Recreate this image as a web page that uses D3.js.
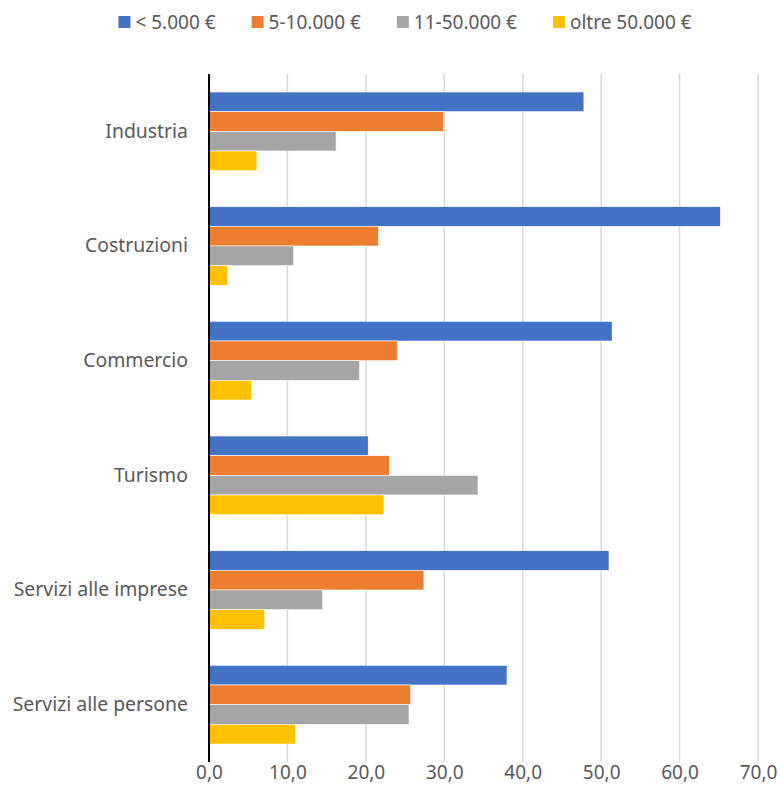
<!DOCTYPE html>
<html>
<head>
<meta charset="utf-8">
<script src="https://cdn.jsdelivr.net/npm/d3@7"></script>
<style>
  body { margin: 0; background: #fff; }
  svg text { font-family: "Noto Sans", "Open Sans", sans-serif; fill: #595959; }
</style>
</head>
<body>
<svg id="chart" width="781" height="803"></svg>
<script>
// settori
const categories = ["Industria", "Costruzioni", "Commercio", "Turismo", "Servizi alle imprese", "Servizi alle persone"];
// classi di importo
const series = ["< 5.000 €", "5-10.000 €", "11-50.000 €", "oltre 50.000 €"];
const colors = ["#4472C4", "#ED7D31", "#A5A5A5", "#FFC000"];

// valori (%)
const lt5000 = [47.8, 65.2, 51.4, 20.3, 51.0, 38.0];
const from5to10 = [29.9, 21.6, 24.0, 23.0, 27.4, 25.7];
const from11to50 = [16.2, 10.8, 19.2, 34.3, 14.5, 25.5];
const over50 = [6.1, 2.4, 5.4, 22.3, 7.1, 11.0];
const xTicks = [0, 10, 20, 30, 40, 50, 60, 70];

const values = [lt5000, from5to10, from11to50, over50];

const svg = d3.select("#chart");

const plotLeft = 209, plotRight = 758, plotTop = 74, plotBottom = 762;

const xScale = d3.scaleLinear()
  .domain([0, 70])
  .range([plotLeft, plotRight]);

const yScale = d3.scaleBand()
  .domain(categories)
  .range([plotTop, plotBottom])
  .paddingInner(0.314)
  .paddingOuter(0.157);

const ySub = d3.scaleBand()
  .domain(series)
  .range([0, yScale.bandwidth()]);

const itFormat = d3.formatLocale({ decimal: ",", thousands: ".", grouping: [3], currency: ["", "€"] }).format(".1f");

// griglia verticale
svg.append("g")
  .selectAll("line")
  .data(xTicks.slice(1))
  .enter()
  .append("line")
  .attr("x1", d => xScale(d))
  .attr("x2", d => xScale(d))
  .attr("y1", plotTop)
  .attr("y2", plotBottom)
  .attr("stroke", "#D9D9D9")
  .attr("stroke-width", 1.5);

// asse X (solo etichette)
const xAxis = d3.axisBottom(xScale)
  .tickValues(xTicks)
  .tickFormat(itFormat)
  .tickSize(0)
  .tickPadding(0);

const gx = svg.append("g")
  .attr("transform", `translate(0,${plotBottom + 11})`)
  .call(xAxis);
gx.select(".domain").remove();
gx.selectAll("text")
  .attr("dy", "0.32em")
  .style("font-size", "19px");

// barre
const groups = svg.append("g")
  .selectAll("g")
  .data(categories)
  .enter()
  .append("g")
  .attr("transform", d => `translate(0,${yScale(d)})`);

groups.selectAll("rect")
  .data((c, i) => series.map((s, j) => ({ s: s, v: values[j][i], j: j })))
  .enter()
  .append("rect")
  .attr("x", xScale(0))
  .attr("y", d => ySub(d.s))
  .attr("width", d => xScale(d.v) - xScale(0))
  .attr("height", ySub.bandwidth())
  .attr("fill", d => colors[d.j])
  .attr("stroke", "#fff")
  .attr("stroke-width", 0.6);

// asse Y
const yAxis = d3.axisLeft(yScale)
  .tickSize(0)
  .tickPadding(21);

const gy = svg.append("g")
  .attr("transform", `translate(${plotLeft},0)`)
  .call(yAxis);
gy.select(".domain").remove();
gy.selectAll("text").style("font-size", "19.4px");

svg.append("line")
  .attr("x1", plotLeft)
  .attr("x2", plotLeft)
  .attr("y1", plotTop)
  .attr("y2", plotBottom)
  .attr("stroke", "#000")
  .attr("stroke-width", 2);

// legenda
const legend = svg.append("g").attr("transform", "translate(0,22)");
const items = legend.selectAll("g")
  .data(series)
  .enter()
  .append("g");

items.append("rect")
  .attr("x", 0)
  .attr("y", -6)
  .attr("width", 12)
  .attr("height", 12)
  .attr("fill", (d, i) => colors[i]);

items.append("text")
  .attr("x", 17)
  .attr("dy", "0.35em")
  .style("font-size", "19px")
  .text(d => d);

let widths = [];
items.each(function() {
  widths.push(17 + this.querySelector("text").getComputedTextLength());
});
const gap = 36;
const total = d3.sum(widths) + gap * (widths.length - 1);
let pos = 405 - total / 2;
items.attr("transform", (d, i) => {
  const t = `translate(${pos},0)`;
  pos += widths[i] + gap;
  return t;
});
</script>
</body>
</html>
